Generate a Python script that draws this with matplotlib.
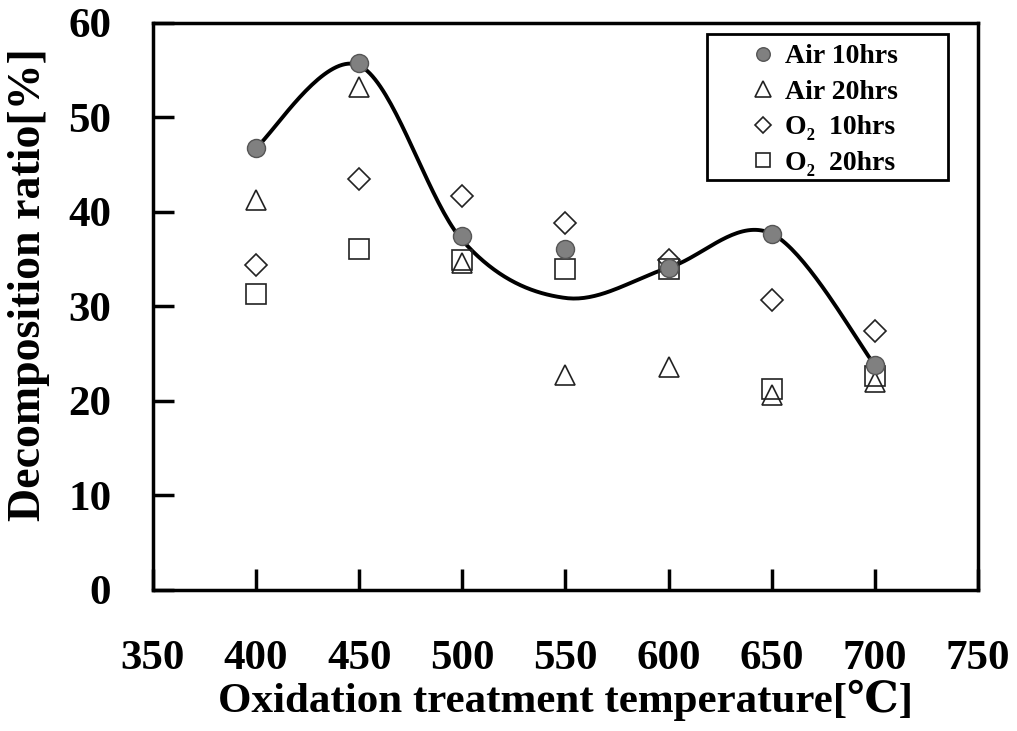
import numpy as np
import matplotlib.pyplot as plt
from matplotlib.patches import Rectangle

plt.rcParams['font.family'] = ['Liberation Serif', 'DejaVu Serif']
plt.rcParams['font.weight'] = 'bold'

temps = [400, 450, 500, 550, 600, 650, 700]
air_10 = [46.8, 55.8, 37.5, 36.1, 34.1, 37.7, 23.8]
air_20 = [41.3, 53.2, 34.6, 22.8, 23.6, 20.6, 22.0]
o2_10 = [34.4, 43.5, 41.7, 38.8, 34.9, 30.7, 27.4]
o2_20 = [31.3, 36.1, 34.9, 34.0, 34.0, 21.3, 22.6]
# hand drawn trend line values at each temperature
trend = [46.8, 55.5, 37.0, 30.9, 34.1, 37.7, 23.8]

xticks = [350, 400, 450, 500, 550, 600, 650, 700, 750]
yticks = [0, 10, 20, 30, 40, 50, 60]


def smooth(x, y, n=40):
    # catmull-rom through the points, like a spreadsheet smoothed line
    x = np.asarray(x, float)
    y = np.asarray(y, float)
    px = np.concatenate([[x[0]], x, [x[-1]]])
    py = np.concatenate([[y[0]], y, [y[-1]]])
    t = np.linspace(0, 1, n)
    xs, ys = [], []
    for i in range(1, len(px) - 2):
        for p, out in ((px, xs), (py, ys)):
            p0, p1, p2, p3 = p[i - 1], p[i], p[i + 1], p[i + 2]
            out.append(0.5 * (2 * p1 + (-p0 + p2) * t
                              + (2 * p0 - 5 * p1 + 4 * p2 - p3) * t ** 2
                              + (-p0 + 3 * p1 - 3 * p2 + p3) * t ** 3))
    return np.concatenate(xs), np.concatenate(ys)


fig = plt.figure(figsize=(10.17, 7.31), dpi=100)
ax = fig.add_axes([0.1504, 0.1929, 0.8112, 0.7757])

sx, sy = smooth(temps, trend)
ax.plot(sx, sy, color='black', lw=2.8, zorder=2)

ax.plot(temps, air_20, '^', ms=15, mfc='none', mec='#222222', mew=1.2, ls='none',
        label='Air 20hrs', zorder=3)
ax.plot(temps, o2_10, 'D', ms=11, mfc='none', mec='#222222', mew=1.2, ls='none',
        label='O₂  10hrs', zorder=3)
ax.plot(temps, o2_20, 's', ms=14, mfc='none', mec='#222222', mew=1.2, ls='none',
        label='O₂  20hrs', zorder=3)
ax.plot(temps, air_10, 'o', ms=13, mfc='#808080', mec='#555555', mew=1.0, ls='none',
        label='Air 10hrs', zorder=4)

ax.set_xlim(350, 750)
ax.set_ylim(0, 60)
ax.set_xticks(xticks)
ax.set_yticks(yticks)
ax.tick_params(axis='both', direction='in', length=15, width=2.5, labelsize=31)
ax.tick_params(axis='x', pad=36)
ax.tick_params(axis='y', pad=30)
for s in ax.spines.values():
    s.set_linewidth(2.5)

ax.set_xlabel('Oxidation treatment temperature[℃]', fontsize=31, fontweight='bold', labelpad=1)
ax.set_ylabel('Decomposition ratio[%]', fontsize=33, fontweight='bold')
ax.yaxis.set_label_coords(-0.125, 0.538)

h, l = ax.get_legend_handles_labels()
order = [3, 0, 1, 2]
leg = ax.legend([h[i] for i in order], [l[i] for i in order],
                loc='upper left', bbox_to_anchor=(0.726, 0.963), fontsize=20,
                frameon=False, handlelength=0.8, handletextpad=0.4,
                borderpad=0, borderaxespad=0, labelspacing=0.36, markerscale=0.75)
for t in leg.get_texts():
    t.set_fontweight('bold')
# legend box drawn separately, it is much wider than the entries
ax.add_patch(Rectangle((0.671, 0.723), 0.293, 0.258, transform=ax.transAxes,
                       fill=False, ec='black', lw=2, zorder=5))

fig.savefig('out.png', dpi=100)
